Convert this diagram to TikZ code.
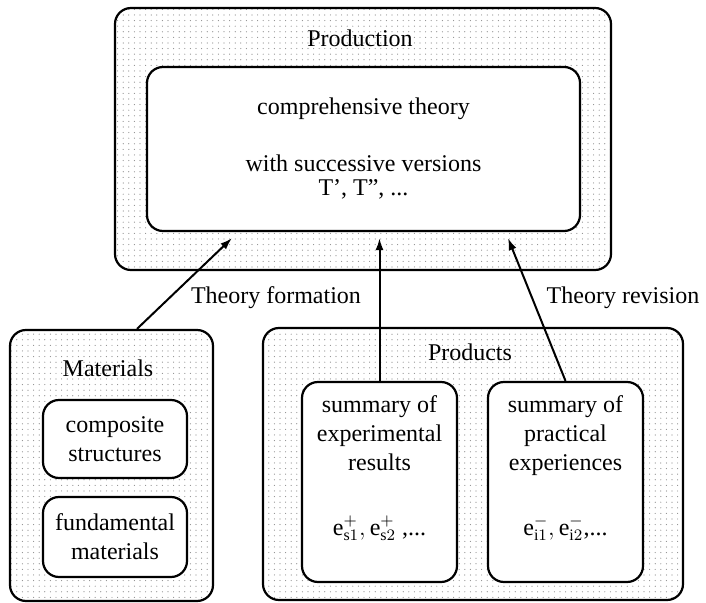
\documentclass[tikz,border=0pt]{standalone}
\usepackage{fontspec}
\setmainfont{Liberation Serif}
\usetikzlibrary{arrows.meta, patterns.meta}

\begin{document}
\begin{tikzpicture}[
    x=0.5pt, y=-0.5pt,
    every node/.style={font=\fontsize{12}{14.5}\selectfont},
    group/.style={draw, line width=1.1pt, rounded corners=8pt, inner sep=0pt,
        pattern={Dots[distance=2.8pt, radius=0.3pt]}, pattern color=black!45},
    item/.style={draw, line width=1.1pt, rounded corners=8pt, fill=white, align=center, inner sep=0pt},
    flow/.style={-{Latex[length=6pt, width=4pt]}, line width=1pt}
]
    \useasboundingbox (0,0) rectangle (706,603);

    % production with the theory inside
    \node[group, minimum width=248pt, minimum height=131pt] (prod) at (363,139) {};
    \node (prod_lbl) at (360,38) {Production};
    \node[item, minimum width=216.5pt, minimum height=82pt] (theory) at (363.5,149)
        {comprehensive theory\\[14pt] with successive versions\\[-2.5pt] T', T'', ...};

    % materials
    \node[group, minimum width=101.5pt, minimum height=135.5pt] (mat) at (111.5,465.5) {};
    \node (mat_lbl) at (108,368) {Materials};
    \node[item, minimum width=72pt, minimum height=39pt] (comp) at (115,439) {composite\\structures};
    \node[item, minimum width=72pt, minimum height=40pt] (fund) at (115,537) {fundamental\\materials};

    % products
    \node[group, minimum width=210pt, minimum height=136pt] (prods) at (473,464) {};
    \node (prods_lbl) at (470,352) {Products};
    \node[item, minimum width=77.5pt, minimum height=100pt] (exp) at (379.5,482)
        {summary of\\experimental\\results\\[18pt]
         $\mathrm{e}^{+}_{\mathrm{s}1}, \mathrm{e}^{+}_{\mathrm{s}2}$ ,...\\[2pt]};
    \node[item, minimum width=77.5pt, minimum height=100pt] (prac) at (565.5,482)
        {summary of\\practical\\experiences\\[18pt]
         $\mathrm{e}^{-}_{\mathrm{i}1}, \mathrm{e}^{-}_{\mathrm{i}2}$,...\\[2pt]};

    % arrows into the theory
    \coordinate (tgap) at ([yshift=-3pt]theory.south);
    \draw[flow] ([xshift=12.75pt]mat.north) -- ([xshift=-65.75pt]tgap);
    \draw[flow] (exp.north) -- (exp.north |- tgap);
    \draw[flow] (prac.north) -- ([xshift=72.25pt]tgap);

    \node (form_lbl) at (276,298) {Theory formation};
    \node (rev_lbl) at (623,298) {Theory revision};
\end{tikzpicture}
\end{document}
